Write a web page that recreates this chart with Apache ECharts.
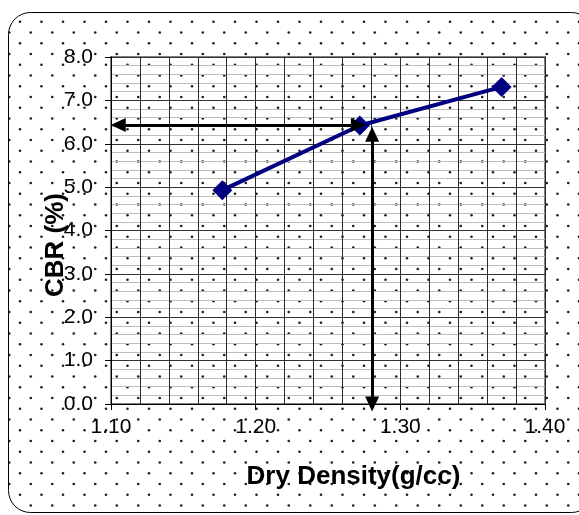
<!DOCTYPE html>
<html><head><meta charset="utf-8">
<script src="https://cdn.jsdelivr.net/npm/echarts@6/dist/echarts.min.js"></script>
<style>html,body{margin:0;padding:0;background:#fff}#chart{width:579px;height:515px}</style>
</head><body><div id="chart"></div>
<script>
// ---- data ----
const densities = [1.177, 1.272, 1.370];
const cbrValues = [4.93, 6.42, 7.31];
const xTicks = [1.10, 1.20, 1.30, 1.40];
const yTicks = [0, 1, 2, 3, 4, 5, 6, 7, 8];
// reading arrows (data units)
const hArrow = [[1.105, 6.43], [1.271, 6.43]];
const vArrow = [[1.2805, 0], [1.2805, 6.22]];
const xTitle = 'Dry Density(g/cc)';
const yTitle = 'CBR (%)';

function makePattern() {
  const n = 43, p = 21.5;
  const c = document.createElement('canvas');
  c.width = n; c.height = n;
  const ctx = c.getContext('2d');
  ctx.fillStyle = '#fff'; ctx.fillRect(0, 0, n, n);
  ctx.fillStyle = '#1e1e1e';
  for (let i = -1; i <= 2; i++) for (let j = -1; j <= 2; j++) {
    [[20, 0.2], [9.25, 10.95]].forEach(([x, y]) => {
      ctx.beginPath(); ctx.arc(x + p * i, y + p * j, 1.3, 0, Math.PI * 2); ctx.fill();
    });
  }
  return c;
}

const font = 'Liberation Sans, Arial, sans-serif';
const chart = echarts.init(document.getElementById('chart'), null, {renderer: 'canvas'});
chart.setOption({
  animation: false,
  backgroundColor: '#fff',
  graphic: [{
    type: 'rect', z: -100, silent: true,
    shape: {x: 8.5, y: 12.5, width: 585, height: 500, r: 22},
    style: {fill: {image: makePattern(), repeat: 'repeat'}, stroke: '#000', lineWidth: 1}
  }],
  grid: {left: 111, top: 57, right: 34, bottom: 111, show: true,
         borderColor: '#808080', borderWidth: 2, backgroundColor: 'transparent'},
  xAxis: {
    type: 'value', min: 1.1, max: 1.4, interval: 0.1,
    axisLine: {show: true, onZero: false, lineStyle: {color: '#000', width: 1}},
    axisTick: {show: true, length: 6, lineStyle: {color: '#000'}, customValues: xTicks},
    axisLabel: {customValues: xTicks, formatter: v => v.toFixed(2), fontSize: 21, fontFamily: font, color: '#000', margin: 13},
    splitLine: {show: true, lineStyle: {color: '#2a2a2a', width: 1}},
    minorTick: {show: false, splitNumber: 5},
    minorSplitLine: {show: true, lineStyle: {color: '#2a2a2a', width: 1}},
    name: xTitle, nameLocation: 'middle', nameGap: 60, nameMoveOverlap: false,
    nameTextStyle: {fontSize: 26, fontWeight: 'bold', fontFamily: font, color: '#000', padding: [0, 0, 0, 51]}
  },
  yAxis: {
    type: 'value', min: 0, max: 8, interval: 1,
    axisLine: {show: true, onZero: false, lineStyle: {color: '#000', width: 1}},
    axisTick: {show: true, length: 6, lineStyle: {color: '#000'}, customValues: yTicks},
    axisLabel: {customValues: yTicks, formatter: v => v.toFixed(1), fontSize: 21, fontFamily: font, color: '#000', margin: 18},
    splitLine: {show: true, lineStyle: {color: '#333', width: 1}},
    minorTick: {show: false, splitNumber: 5},
    minorSplitLine: {show: true, lineStyle: {color: '#bdbdbd', width: 1}},
    name: yTitle, nameLocation: 'middle', nameGap: 42, nameRotate: 90, nameMoveOverlap: false,
    nameTextStyle: {fontSize: 26, fontWeight: 'bold', fontFamily: font, color: '#000', padding: [0, 29, 0, 0]}
  },
  series: [{
    type: 'line',
    data: densities.map((d, i) => [d, cbrValues[i]]),
    symbol: 'diamond', symbolSize: 20,
    itemStyle: {color: '#000080'},
    lineStyle: {color: '#000080', width: 4},
    z: 3,
    markLine: {
      silent: true, animation: false,
      symbol: ['triangle', 'triangle'], symbolSize: [14, 15],
      label: {show: false},
      lineStyle: {color: '#000', width: 3, type: 'solid'},
      emphasis: {disabled: true},
      data: [
        [{coord: hArrow[0]}, {coord: hArrow[1]}],
        [{coord: vArrow[0]}, {coord: vArrow[1]}]
      ]
    }
  }]
});
</script></body></html>
